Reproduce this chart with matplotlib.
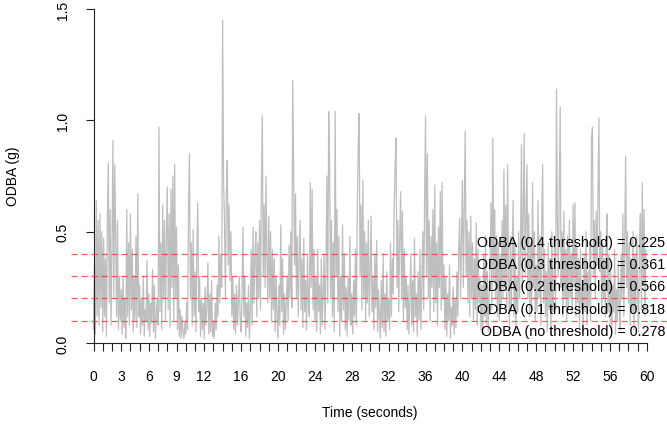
import numpy as np
import matplotlib
matplotlib.use("Agg")
import matplotlib.pyplot as plt

plt.rcParams['font.family'] = ['Liberation Sans', 'DejaVu Sans']

# ODBA samples at 10 Hz, one row per second
odba = [
    0.06, 0.35, 0.04, 0.64, 0.12, 0.55, 0.08, 0.58, 0.16, 0.50,
    0.05, 0.47, 0.12, 0.38, 0.03, 0.55, 0.81, 0.18, 0.60, 0.08,
    0.42, 0.91, 0.20, 0.80, 0.48, 0.12, 0.55, 0.06, 0.30, 0.10,
    0.24, 0.04, 0.30, 0.07, 0.20, 0.02, 0.60, 0.12, 0.45, 0.08,
    0.58, 0.15, 0.42, 0.05, 0.30, 0.10, 0.48, 0.07, 0.67, 0.12,
    0.26, 0.04, 0.20, 0.08, 0.30, 0.03, 0.15, 0.10, 0.37, 0.06,
    0.22, 0.03, 0.18, 0.09, 0.33, 0.05, 0.26, 0.02, 0.12, 0.20,
    0.08, 0.97, 0.14, 0.45, 0.06, 0.62, 0.20, 0.55, 0.10, 0.48,
    0.70, 0.15, 0.58, 0.07, 0.69, 0.25, 0.75, 0.10, 0.80, 0.20,
    0.52, 0.06, 0.35, 0.03, 0.15, 0.02, 0.12, 0.05, 0.02, 0.09,
    0.04, 0.18, 0.06, 0.60, 0.85, 0.20, 0.45, 0.08, 0.51, 0.12,
    0.32, 0.05, 0.40, 0.63, 0.14, 0.30, 0.03, 0.20, 0.06, 0.18,
    0.02, 0.25, 0.08, 0.16, 0.36, 0.04, 0.22, 0.05, 0.28, 0.03,
    0.10, 0.02, 0.18, 0.06, 0.26, 0.12, 0.48, 0.18, 0.40, 0.25,
    1.45, 0.72, 0.55, 0.20, 0.68, 0.82, 0.35, 0.62, 0.28, 0.50,
    0.12, 0.30, 0.06, 0.22, 0.04, 0.26, 0.08, 0.18, 0.30, 0.10,
    0.05, 0.22, 0.52, 0.12, 0.30, 0.03, 0.18, 0.07, 0.26, 0.02,
    0.14, 0.42, 0.08, 0.52, 0.18, 0.38, 0.50, 0.12, 0.45, 0.20,
    0.55, 0.15, 0.70, 1.02, 0.30, 0.62, 0.25, 0.75, 0.40, 0.18,
    0.57, 0.20, 0.50, 0.10, 0.42, 0.15, 0.38, 0.05, 0.30, 0.12,
    0.02, 0.26, 0.08, 0.53, 0.14, 0.38, 0.04, 0.22, 0.06, 0.18,
    0.30, 0.10, 0.44, 0.20, 0.50, 0.16, 1.18, 0.76, 0.35, 0.67,
    0.20, 0.48, 0.12, 0.40, 0.55, 0.15, 0.38, 0.07, 0.47, 0.14,
    0.28, 0.06, 0.40, 0.18, 0.12, 0.72, 0.25, 0.69, 0.15, 0.42,
    0.10, 0.30, 0.05, 0.42, 0.14, 0.26, 0.04, 0.38, 0.08, 0.22,
    0.40, 0.06, 0.30, 0.75, 0.18, 1.04, 0.80, 0.20, 0.55, 0.12,
    0.45, 0.05, 1.04, 0.30, 0.60, 0.14, 0.48, 0.03, 0.30, 0.10,
    0.53, 0.15, 0.40, 0.06, 0.25, 0.03, 0.30, 0.10, 0.48, 0.08,
    0.22, 0.04, 0.28, 0.12, 0.42, 0.08, 0.60, 0.88, 1.03, 0.30,
    0.62, 0.15, 0.73, 0.20, 0.50, 0.10, 0.45, 0.18, 0.55, 0.12,
    0.32, 0.57, 0.14, 0.30, 0.06, 0.40, 0.16, 0.46, 0.05, 0.24,
    0.12, 0.02, 0.28, 0.07, 0.40, 0.05, 0.22, 0.03, 0.32, 0.10,
    0.20, 0.06, 0.45, 0.12, 0.38, 0.22, 0.62, 0.79, 0.92, 0.25,
    0.55, 0.14, 0.48, 0.68, 0.20, 0.59, 0.10, 0.42, 0.16, 0.30,
    0.06, 0.26, 0.04, 0.20, 0.40, 0.08, 0.28, 0.05, 0.47, 0.12,
    0.22, 0.03, 0.32, 0.10, 0.42, 0.06, 0.25, 0.50, 0.15, 0.65,
    1.02, 0.30, 0.85, 0.20, 0.55, 0.10, 0.48, 0.25, 0.60, 0.14,
    0.71, 0.18, 0.45, 0.08, 0.52, 0.25, 0.68, 0.15, 0.72, 0.20,
    0.35, 0.06, 0.30, 0.03, 0.22, 0.10, 0.35, 0.02, 0.16, 0.08,
    0.25, 0.04, 0.20, 0.07, 0.32, 0.12, 0.42, 0.56, 0.20, 0.48,
    0.73, 0.25, 0.60, 0.95, 0.30, 0.55, 0.18, 0.50, 0.12, 0.57,
    0.20, 0.45, 0.10, 0.38, 0.15, 0.54, 0.08, 0.42, 0.18, 0.30,
    0.06, 0.26, 0.04, 0.40, 0.12, 0.48, 0.08, 0.32, 0.05, 0.22,
    0.35, 0.63, 0.15, 0.92, 0.28, 0.60, 0.20, 0.48, 0.12, 0.45,
    0.10, 0.40, 0.16, 0.55, 0.20, 0.78, 0.25, 0.62, 0.15, 0.80,
    0.30, 0.08, 0.48, 0.15, 0.40, 0.64, 0.12, 0.45, 0.06, 0.30,
    0.14, 0.50, 0.20, 0.42, 0.89, 0.25, 0.60, 0.94, 0.30, 0.55,
    0.80, 0.20, 0.58, 0.12, 0.45, 0.15, 0.72, 0.25, 0.50, 0.10,
    0.35, 0.14, 0.64, 0.20, 0.48, 0.08, 0.55, 0.80, 0.18, 0.42,
    0.12, 0.32, 0.05, 0.45, 0.15, 0.38, 0.04, 0.50, 0.14, 0.26,
    0.45, 0.15, 1.14, 0.55, 0.30, 0.70, 1.06, 0.25, 0.50, 0.12,
    0.59, 0.20, 0.42, 0.10, 0.48, 0.15, 0.55, 0.20, 0.40, 0.14,
    0.62, 0.25, 0.63, 0.12, 0.45, 0.18, 0.38, 0.06, 0.42, 0.15,
    0.26, 0.05, 0.40, 0.14, 0.50, 0.08, 0.32, 0.16, 0.45, 0.10,
    0.91, 0.97, 0.30, 0.55, 0.20, 0.59, 0.35, 0.68, 1.01, 0.32,
    0.50, 0.15, 0.45, 0.20, 0.38, 0.12, 0.48, 0.58, 0.14, 0.40,
    0.08, 0.32, 0.05, 0.26, 0.14, 0.42, 0.04, 0.24, 0.10, 0.36,
    0.18, 0.06, 0.40, 0.20, 0.58, 0.12, 0.45, 0.84, 0.25, 0.50,
    0.18, 0.45, 0.08, 0.38, 0.14, 0.50, 0.06, 0.40, 0.15, 0.48,
    0.22, 0.05, 0.45, 0.58, 0.15, 0.72, 0.28, 0.60, 0.12, 0.42,
]
sample_rate = 10

thresholds = [0.4, 0.3, 0.2, 0.1]
label_names = ["0.4 threshold", "0.3 threshold", "0.2 threshold",
               "0.1 threshold", "no threshold"]
label_values = [0.225, 0.361, 0.566, 0.818, 0.278]
label_levels = [0.4, 0.3, 0.2, 0.1, 0.0]

x_labels_shown = [0, 3, 6, 9, 12, 16, 20, 24, 28, 32, 36, 40, 44, 48, 52, 56, 60]

W, H = 667, 431
fig = plt.figure(figsize=(W / 100, H / 100), dpi=100)

# plot region in pixels (R-style 4% padding around 0-60 / 0-1.5)
x0, x1 = 71.4, 669.0
y_top, y_bot = -3.4, 357.4
ax = fig.add_axes([x0 / W, 1 - y_bot / H, (x1 - x0) / W, (y_bot - y_top) / H])
ax.set_xlim(-2.4, 62.4)
ax.set_ylim(-0.06, 1.56)
ax.patch.set_alpha(0)

t = np.arange(len(odba)) / sample_rate
ax.plot(t, odba, color="#BEBEBE", lw=0.9, zorder=2)

for thr in thresholds:
    ax.axhline(thr, color=(1, 0.15, 0.2, 0.75), lw=0.9, dashes=(5, 3), zorder=3)

for name, val, lev in zip(label_names, label_values, label_levels):
    ax.text(62.0, lev + 0.055, "ODBA (%s) = %.3f" % (name, val),
            ha="right", va="center", fontsize=10.3, color="black", zorder=4)

# axes like R's axis()
for s in ["top", "right"]:
    ax.spines[s].set_visible(False)
ax.spines["left"].set_position(("data", 0))
ax.spines["bottom"].set_position(("data", 0))
ax.spines["left"].set_bounds(0, 1.5)
ax.spines["bottom"].set_bounds(0, 60)
for s in ["left", "bottom"]:
    ax.spines[s].set_linewidth(0.8)
    ax.spines[s].set_color("#222222")

ax.set_xticks(range(61))
ax.set_xticklabels([str(i) if i in x_labels_shown else "" for i in range(61)])
ax.set_yticks([0, 0.5, 1.0, 1.5])
ax.set_yticklabels(["0.0", "0.5", "1.0", "1.5"], rotation=90, va="center")
ax.tick_params(axis="x", length=6, width=0.8, color="#222222", pad=13, labelsize=10)
ax.tick_params(axis="y", length=6, width=0.8, color="#222222", pad=11, labelsize=10)

fig.text(370 / W, 1 - 413 / H, "Time (seconds)", ha="center", va="center", fontsize=10)
fig.text(13 / W, 1 - 176 / H, "ODBA (g)", ha="center", va="center", rotation=90, fontsize=10)

fig.savefig("out.png", dpi=100)
